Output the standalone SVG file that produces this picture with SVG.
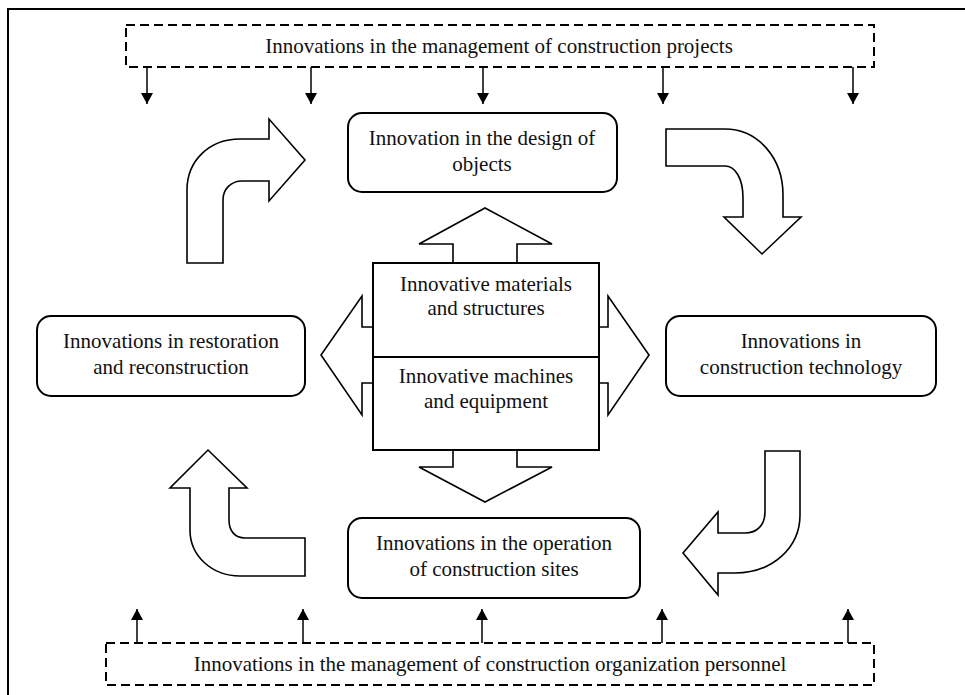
<svg xmlns="http://www.w3.org/2000/svg" width="965" height="695" viewBox="0 0 965 695">
<defs>
<marker id="ah" viewBox="0 0 11 12" refX="11" refY="6" markerWidth="11" markerHeight="12" markerUnits="userSpaceOnUse" orient="auto">
<path d="M0,0 L11,6 L0,12 Z" fill="#000"/>
</marker>
<style>
.t{font-family:'Liberation Serif','Times New Roman','DejaVu Serif',serif;font-size:21px;fill:#111;text-anchor:middle}
.box{fill:#fff;stroke:#000;stroke-width:2}
.dash{fill:none;stroke:#000;stroke-width:2;stroke-dasharray:9,5}
.bigarrow{fill:#fff;stroke:#000;stroke-width:1.6;stroke-linejoin:miter}
.conn{stroke:#000;stroke-width:1.5;fill:none}
</style>
</defs>
<rect width="965" height="695" fill="#fff"/>
<path d="M8,695 L8,9 L965,9" fill="none" stroke="#000" stroke-width="2"/>

<g id="top-management">
<rect class="dash" x="126" y="25" width="748" height="42"/>
<text class="t" font-family="Liberation Serif, serif" x="499" y="53">Innovations in the management of construction projects</text>
</g>
<g id="bottom-management">
<rect class="dash" x="106" y="643" width="768" height="42"/>
<text class="t" font-family="Liberation Serif, serif" x="490" y="671">Innovations in the management of construction organization personnel</text>
</g>

<g id="connectors">
<line class="conn" x1="147" y1="67" x2="147" y2="104" marker-end="url(#ah)"/>
<line class="conn" x1="311" y1="67" x2="311" y2="104" marker-end="url(#ah)"/>
<line class="conn" x1="483" y1="67" x2="483" y2="104" marker-end="url(#ah)"/>
<line class="conn" x1="663" y1="67" x2="663" y2="104" marker-end="url(#ah)"/>
<line class="conn" x1="853" y1="67" x2="853" y2="104" marker-end="url(#ah)"/>
<line class="conn" x1="137" y1="643" x2="137" y2="609" marker-end="url(#ah)"/>
<line class="conn" x1="303" y1="643" x2="303" y2="609" marker-end="url(#ah)"/>
<line class="conn" x1="482" y1="643" x2="482" y2="609" marker-end="url(#ah)"/>
<line class="conn" x1="662" y1="643" x2="662" y2="609" marker-end="url(#ah)"/>
<line class="conn" x1="848" y1="643" x2="848" y2="609" marker-end="url(#ah)"/>
<path class="bigarrow" d="M187,263 L187,190 C187,161 209,139 240,139 L269,139 L269,119 L305,160 L269,201 L269,181 L242,181 C231,181 223,189 223,200 L223,263 Z"/>
<path class="bigarrow" d="M666,129 L725,129 C758,129 783,158 783,195 L783,217 L801,217 L762,254 L724,217 L743,217 L743,198 C743,178 735,166 725,166 L666,166 Z"/>
<path class="bigarrow" d="M765,451 L800,451 L800,515 C800,548 772,573 735,573 L718,573 L718,595 L683,553 L718,512 L718,533 L745,533 C757,533 765,525 765,512 Z"/>
<path class="bigarrow" d="M190,488 L170,488 L208,450 L247,488 L229,488 L229,520 C229,531 235,538 245,538 L305,538 L305,576 L240,576 C212,576 190,556 190,530 Z"/>
<polygon class="bigarrow" points="453,264 453,244 419,244 485,208 552,244 517,244 517,264"/>
<polygon class="bigarrow" points="374,327 362,327 362,296 321,355 362,415 362,383 374,383"/>
<polygon class="bigarrow" points="598,327 608,327 608,296 649,355 608,415 608,383 598,383"/>
<polygon class="bigarrow" points="453,449 453,467 419,467 485,502 552,467 517,467 517,449"/>
</g>

<g id="design">
<rect class="box" x="348" y="113" width="269" height="79" rx="14"/>
<text class="t" font-family="Liberation Serif, serif" x="482" y="145">Innovation in the design of</text>
<text class="t" font-family="Liberation Serif, serif" x="482" y="171">objects</text>
</g>
<g id="technology">
<rect class="box" x="666" y="316" width="270" height="80" rx="14"/>
<text class="t" font-family="Liberation Serif, serif" x="801" y="348">Innovations in</text>
<text class="t" font-family="Liberation Serif, serif" x="801" y="374">construction technology</text>
</g>
<g id="restoration">
<rect class="box" x="37" y="316" width="268" height="80" rx="14"/>
<text class="t" font-family="Liberation Serif, serif" x="171" y="348">Innovations in restoration</text>
<text class="t" font-family="Liberation Serif, serif" x="171" y="374">and reconstruction</text>
</g>
<g id="operation">
<rect class="box" x="348" y="518" width="292" height="80" rx="14"/>
<text class="t" font-family="Liberation Serif, serif" x="494" y="550">Innovations in the operation</text>
<text class="t" font-family="Liberation Serif, serif" x="494" y="576">of construction sites</text>
</g>
<g id="center">
<rect class="box" x="373" y="263" width="226" height="94"/>
<rect class="box" x="373" y="357" width="226" height="93"/>
<text class="t" font-family="Liberation Serif, serif" x="486" y="291">Innovative materials</text>
<text class="t" font-family="Liberation Serif, serif" x="486" y="315">and structures</text>
<text class="t" font-family="Liberation Serif, serif" x="486" y="383">Innovative machines</text>
<text class="t" font-family="Liberation Serif, serif" x="486" y="408">and equipment</text>
</g>
</svg>
